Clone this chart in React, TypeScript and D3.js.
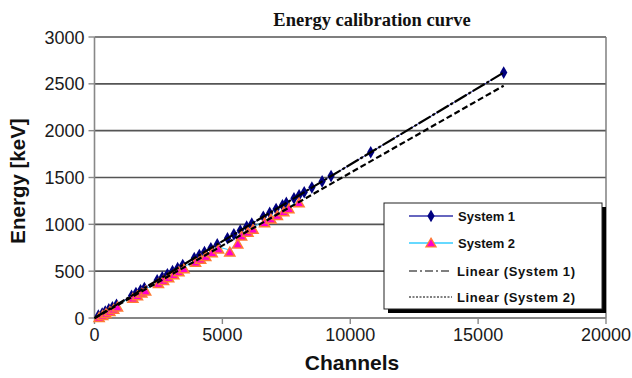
import * as d3 from "d3";

// System 1: channel / energy (keV)
const sys1Channels = [150, 300, 420, 560, 700, 860, 1450, 1620, 1800, 1950, 2450, 2650, 2850, 3050, 3250, 3450, 3900, 4100, 4300, 4550, 4800, 5200, 5450, 5700, 5950, 6150, 6600, 6850, 7100, 7350, 7500, 7800, 8000, 8200, 8500, 8900, 9250, 10800, 16000];
const sys1Energy = [25, 48, 70, 92, 115, 141, 238, 266, 295, 320, 402, 434, 467, 500, 532, 565, 639, 672, 705, 745, 786, 852, 893, 934, 975, 1007, 1081, 1122, 1163, 1204, 1229, 1278, 1311, 1343, 1393, 1458, 1515, 1769, 2620];

// System 2: channel / energy (keV)
const sys2Channels = [180, 320, 450, 600, 750, 900, 1500, 1680, 1850, 2000, 2500, 2700, 2900, 3100, 3300, 3500, 3950, 4150, 4350, 4600, 4850, 5290, 5600, 5750, 6000, 6200, 6650, 6900, 7150, 7400, 7600, 8000];
const sys2Energy = [26, 48, 68, 91, 114, 138, 231, 258, 286, 309, 388, 420, 450, 482, 514, 546, 615, 647, 678, 718, 757, 726, 811, 897, 936, 968, 1038, 1077, 1116, 1156, 1187, 1250];

const xTicks = [0, 5000, 10000, 15000, 20000];
const yTicks = [0, 500, 1000, 1500, 2000, 2500, 3000];
const trendEnd = 16000;

const W = 632;
const H = 378;
const M = { left: 94.5, right: 606, top: 37, bottom: 318 };

function fit(xs: number[], ys: number[]) {
  const mx = d3.mean(xs)!;
  const my = d3.mean(ys)!;
  const sxy = d3.sum(xs, (x, i) => (x - mx) * (ys[i] - my));
  const sxx = d3.sum(xs, (x) => (x - mx) ** 2);
  const slope = sxy / sxx;
  return { slope, intercept: my - slope * mx };
}

export default function App() {
  const x = d3.scaleLinear().domain([0, 20000]).range([M.left, M.right]);
  const y = d3.scaleLinear().domain([0, 3000]).range([M.bottom, M.top]);

  const s1 = sys1Channels.map((c, i) => [c, sys1Energy[i]] as [number, number]);
  const s2 = sys2Channels.map((c, i) => [c, sys2Energy[i]] as [number, number]);
  const line = d3.line<[number, number]>().x((d) => x(d[0])).y((d) => y(d[1]));

  const f1 = fit(sys1Channels, sys1Energy);
  const f2 = fit(sys2Channels, sys2Energy);
  const trend = (f: { slope: number; intercept: number }) =>
    line([
      [0, f.intercept],
      [trendEnd, f.intercept + f.slope * trendEnd],
    ]) ?? "";

  const diamond = d3.symbol(d3.symbolDiamond, 46)() ?? "";
  const triangle = d3.symbol(d3.symbolTriangle, 44)() ?? "";

  const sans = "Arial, 'Liberation Sans', sans-serif";
  const legX = 384;
  const legY = 203;

  return (
    <svg width={W} height={H} style={{ position: "absolute", left: 0, top: 0, background: "#fff" }}>
      <text x={372} y={26} textAnchor="middle" fontFamily="'Liberation Serif', 'Times New Roman', serif" fontWeight="bold" fontSize={18.5} fill="#111">
        Energy calibration curve
      </text>

      {/* grid */}
      {yTicks.map((t) => (
        <line key={t} x1={M.left} x2={M.right} y1={y(t)} y2={y(t)} stroke="#555" strokeWidth={1.6} />
      ))}
      <line x1={M.right} x2={M.right} y1={M.top} y2={M.bottom} stroke="#777" strokeWidth={1.4} />
      <line x1={M.left} x2={M.left} y1={M.top} y2={M.bottom} stroke="#888" strokeWidth={1.6} />
      <line x1={M.left} x2={M.right} y1={M.bottom} y2={M.bottom} stroke="#888" strokeWidth={1.6} />

      {yTicks.map((t) => (
        <g key={t}>
          <line x1={M.left - 6} x2={M.left} y1={y(t)} y2={y(t)} stroke="#888" strokeWidth={1.4} />
          <text x={M.left - 10} y={y(t) + 6.5} textAnchor="end" fontFamily={sans} fontSize={18} fill="#1a1a1a">
            {t}
          </text>
        </g>
      ))}
      {xTicks.map((t) => (
        <g key={t}>
          <line x1={x(t)} x2={x(t)} y1={M.bottom} y2={M.bottom + 6} stroke="#888" strokeWidth={1.4} />
          <text x={x(t)} y={M.bottom + 23} textAnchor="middle" fontFamily={sans} fontSize={18} fill="#1a1a1a">
            {t}
          </text>
        </g>
      ))}

      <text x={352} y={370} textAnchor="middle" fontFamily={sans} fontWeight="bold" fontSize={21} fill="#111">
        Channels
      </text>
      <text transform="translate(25,181) rotate(-90)" textAnchor="middle" fontFamily={sans} fontWeight="bold" fontSize={20.5} fill="#111">
        Energy [keV]
      </text>

      {/* series */}
      <path d={line(s1) ?? ""} fill="none" stroke="#3333aa" strokeWidth={1} />
      {s1.map((d, i) => (
        <path key={i} d={diamond} transform={`translate(${x(d[0])},${y(d[1])})`} fill="#000080" />
      ))}
      <path d={line(s2) ?? ""} fill="none" stroke="#33ccff" strokeWidth={1} />
      {s2.map((d, i) => (
        <path key={i} d={triangle} transform={`translate(${x(d[0])},${y(d[1]) + 3})`} fill="#ff00cc" stroke="#ff7a33" strokeWidth={1.5} />
      ))}

      <path d={trend(f1)} fill="none" stroke="#000" strokeWidth={2.2} strokeDasharray="14,2,3,2" />
      <path d={trend(f2)} fill="none" stroke="#000" strokeWidth={2.2} strokeDasharray="6,3" />

      {/* legend */}
      <rect x={legX + 4} y={legY + 4} width={218} height={106} fill="#000" />
      <rect x={legX} y={legY} width={218} height={106} fill="#fff" stroke="#222" strokeWidth={1} />
      <line x1={409} x2={453} y1={216} y2={216} stroke="#3333aa" strokeWidth={1.5} />
      <path d={diamond} transform="translate(431,216)" fill="#000080" />
      <text x={458} y={221} fontFamily={sans} fontWeight="bold" fontSize={13} fill="#111">System 1</text>

      <line x1={409} x2={453} y1={243} y2={243} stroke="#33ccff" strokeWidth={1.5} />
      <path d={triangle} transform="translate(431,244)" fill="#ff00cc" stroke="#ff7a33" strokeWidth={1.3} />
      <text x={458} y={248} fontFamily={sans} fontWeight="bold" fontSize={13} fill="#111">System 2</text>

      <line x1={409} x2={452} y1={271} y2={271} stroke="#000" strokeWidth={1.2} strokeDasharray="8,3,2,3" />
      <text x={457} y={276} fontFamily={sans} fontWeight="bold" fontSize={13} fill="#111" letterSpacing={0.6}>Linear (System 1)</text>

      <line x1={409} x2={452} y1={297} y2={297} stroke="#000" strokeWidth={1} strokeDasharray="2,1.5" />
      <text x={457} y={302} fontFamily={sans} fontWeight="bold" fontSize={13} fill="#111" letterSpacing={0.6}>Linear (System 2)</text>
    </svg>
  );
}
